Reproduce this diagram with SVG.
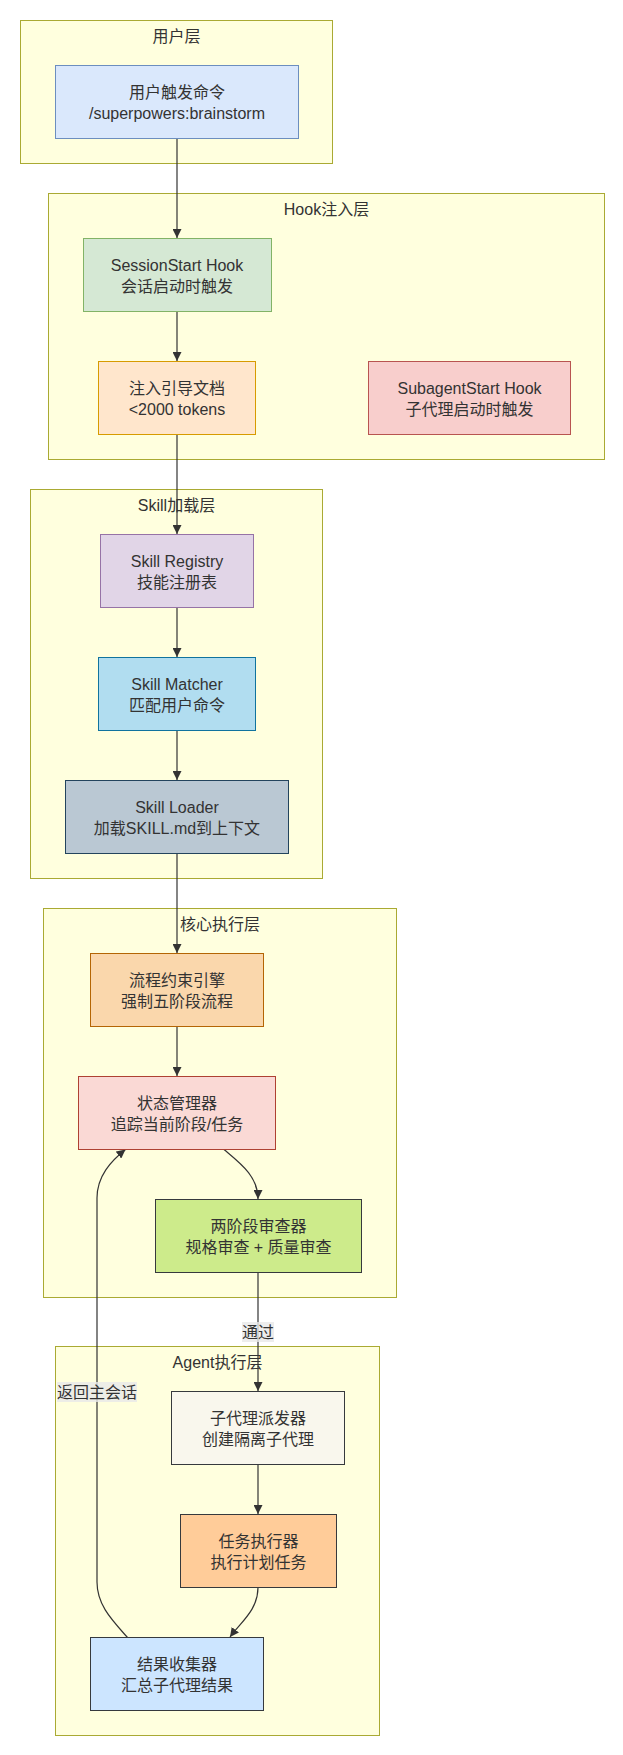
<svg xmlns="http://www.w3.org/2000/svg" width="623" height="1755" viewBox="0 0 623 1755">
<defs>
<style>
text{font-family:"Liberation Sans","Noto Sans CJK SC",sans-serif;font-size:16px;fill:#333;text-anchor:middle}
.cl{fill:#ffffde;stroke:#aaaa33;stroke-width:1}
.e{fill:none;stroke:#333;stroke-width:1.2}
.lb{fill:#e8e8e8;fill-opacity:0.8}
</style>
<marker id="ah" viewBox="0 0 10 10" refX="10" refY="5" markerUnits="userSpaceOnUse" markerWidth="9" markerHeight="9" orient="auto">
<path d="M0,0 L10,5 L0,10 z" fill="#333"/>
</marker>
</defs>
<rect width="623" height="1755" fill="#fff"/>
<g id="clusters">
<g id="c-user"><rect class="cl" x="20.5" y="20.5" width="312" height="143"/><text x="176.5" y="42">用户层</text></g>
<g id="c-hook"><rect class="cl" x="48.5" y="193.5" width="556" height="266"/><text x="326.5" y="215">Hook注入层</text></g>
<g id="c-skill"><rect class="cl" x="30.5" y="489.5" width="292" height="389"/><text x="176.5" y="511">Skill加载层</text></g>
<g id="c-core"><rect class="cl" x="43.5" y="908.5" width="353" height="389"/><text x="220" y="930">核心执行层</text></g>
<g id="c-agent"><rect class="cl" x="55.5" y="1346.5" width="324" height="389"/><text x="217.5" y="1368">Agent执行层</text></g>
</g>
<g id="connectors">
<path class="e" d="M177,138.5 L177,238" marker-end="url(#ah)"/>
<path class="e" d="M177,311.5 L177,361" marker-end="url(#ah)"/>
<path class="e" d="M177,434.5 L177,534" marker-end="url(#ah)"/>
<path class="e" d="M177,607.5 L177,657" marker-end="url(#ah)"/>
<path class="e" d="M177,730.5 L177,780" marker-end="url(#ah)"/>
<path class="e" d="M177,853.5 L177,953" marker-end="url(#ah)"/>
<path class="e" d="M177,1026.5 L177,1076" marker-end="url(#ah)"/>
<path class="e" d="M224,1149.5 C240,1163 258,1176 258,1199" marker-end="url(#ah)"/>
<path class="e" d="M258,1272.5 L258,1391" marker-end="url(#ah)"/>
<path class="e" d="M258,1464.5 L258,1514" marker-end="url(#ah)"/>
<path class="e" d="M258,1587.5 C258,1610 241,1622 230,1637" marker-end="url(#ah)"/>
<path class="e" d="M127.5,1637.5 C112,1620 97,1605 97,1582 L97,1198 C97,1176 111,1161 125.5,1149.5" marker-end="url(#ah)"/>
<g id="lbl-pass"><rect class="lb" x="242" y="1322" width="32" height="20"/><text x="258" y="1337.5">通过</text></g>
<g id="lbl-return"><rect class="lb" x="57" y="1382" width="80" height="20"/><text x="97" y="1397.5">返回主会话</text></g>
</g>
<g id="n-user"><rect x="55.5" y="65.5" width="243" height="73" fill="#dae8fc" stroke="#6c8ebf"/><text x="177" y="97.5">用户触发命令</text><text x="177" y="119">/superpowers:brainstorm</text></g>
<g id="n-session"><rect x="83.5" y="238.5" width="188" height="73" fill="#d5e8d4" stroke="#82b366"/><text x="177" y="270.5">SessionStart Hook</text><text x="177" y="292">会话启动时触发</text></g>
<g id="n-inject"><rect x="98.5" y="361.5" width="157" height="73" fill="#ffe6cc" stroke="#d79b00"/><text x="177" y="393.5">注入引导文档</text><text x="177" y="415">&lt;2000 tokens</text></g>
<g id="n-subagent"><rect x="368.5" y="361.5" width="202" height="73" fill="#f8cecc" stroke="#b85450"/><text x="469.5" y="393.5">SubagentStart Hook</text><text x="469.5" y="415">子代理启动时触发</text></g>
<g id="n-registry"><rect x="100.5" y="534.5" width="153" height="73" fill="#e1d5e7" stroke="#9673a6"/><text x="177" y="566.5">Skill Registry</text><text x="177" y="588">技能注册表</text></g>
<g id="n-matcher"><rect x="98.5" y="657.5" width="157" height="73" fill="#b1ddf0" stroke="#10739e"/><text x="177" y="689.5">Skill Matcher</text><text x="177" y="711">匹配用户命令</text></g>
<g id="n-loader"><rect x="65.5" y="780.5" width="223" height="73" fill="#bac8d3" stroke="#23445d"/><text x="177" y="812.5">Skill Loader</text><text x="177" y="834">加载SKILL.md到上下文</text></g>
<g id="n-engine"><rect x="90.5" y="953.5" width="173" height="73" fill="#fad7ac" stroke="#b46504"/><text x="177" y="985.5">流程约束引擎</text><text x="177" y="1007">强制五阶段流程</text></g>
<g id="n-state"><rect x="78.5" y="1076.5" width="197" height="73" fill="#fad9d5" stroke="#ae4132"/><text x="177" y="1108.5">状态管理器</text><text x="177" y="1130">追踪当前阶段/任务</text></g>
<g id="n-review"><rect x="155.5" y="1199.5" width="206" height="73" fill="#cdeb8b" stroke="#36393d"/><text x="258.5" y="1231.5">两阶段审查器</text><text x="258.5" y="1253">规格审查 + 质量审查</text></g>
<g id="n-dispatch"><rect x="171.5" y="1391.5" width="173" height="73" fill="#f9f7ed" stroke="#36393d"/><text x="258" y="1423.5">子代理派发器</text><text x="258" y="1445">创建隔离子代理</text></g>
<g id="n-exec"><rect x="180.5" y="1514.5" width="156" height="73" fill="#ffcc99" stroke="#36393d"/><text x="258.5" y="1546.5">任务执行器</text><text x="258.5" y="1568">执行计划任务</text></g>
<g id="n-collect"><rect x="90.5" y="1637.5" width="173" height="73" fill="#cce5ff" stroke="#36393d"/><text x="177" y="1669.5">结果收集器</text><text x="177" y="1691">汇总子代理结果</text></g>
</svg>
